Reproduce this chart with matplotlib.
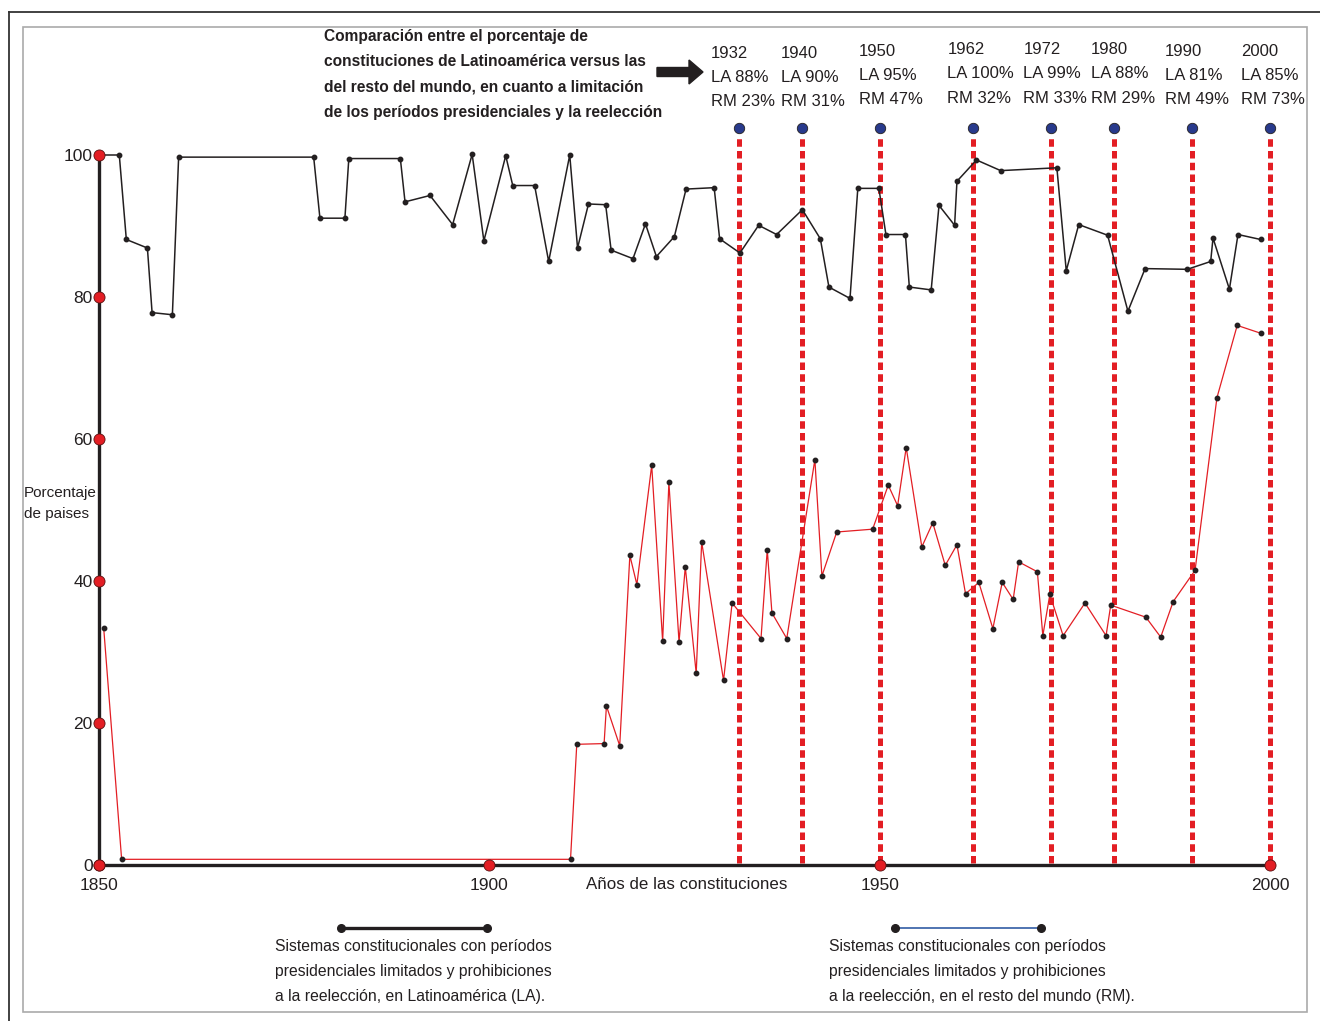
import matplotlib
matplotlib.use("Agg")
import matplotlib.pyplot as plt
import matplotlib.patches as mpatches
from matplotlib.lines import Line2D
from matplotlib.transforms import IdentityTransform

plt.rcParams['font.family'] = ['Liberation Sans', 'DejaVu Sans']

# Latinoamérica (LA): año de la constitución, porcentaje
la_years = [1850, 1852.6, 1853.5, 1856.2, 1856.8, 1859.4, 1860.2, 1877.5, 1878.3, 1881.5,
            1882.0, 1888.6, 1889.2, 1892.4, 1895.3, 1897.8, 1899.3, 1902.1, 1903.0, 1905.8,
            1907.6, 1910.3, 1911.3, 1912.7, 1914.9, 1915.6, 1918.4, 1920.0, 1921.4, 1923.7,
            1925.2, 1928.8, 1929.5, 1932.1, 1934.5, 1936.8, 1940.1, 1942.4, 1943.5, 1946.2,
            1947.2, 1949.9, 1950.8, 1953.3, 1953.8, 1956.6, 1957.6, 1959.6, 1959.9, 1962.4,
            1965.5, 1972.7, 1973.9, 1975.5, 1979.2, 1981.8, 1984.0, 1989.4, 1992.4, 1992.7,
            1994.8, 1995.9, 1998.8]
la_vals = [100, 100, 88.1, 86.9, 77.8, 77.5, 99.7, 99.7, 91.1, 91.1,
           99.5, 99.5, 93.4, 94.3, 90.2, 100.1, 87.9, 99.9, 95.7, 95.7,
           85.0, 100.0, 86.9, 93.1, 93.0, 86.6, 85.4, 90.3, 85.7, 88.5,
           95.2, 95.4, 88.2, 86.2, 90.1, 88.8, 92.3, 88.2, 81.4, 79.8,
           95.3, 95.3, 88.8, 88.8, 81.4, 81.0, 92.9, 90.1, 96.3, 99.3,
           97.8, 98.2, 83.7, 90.2, 88.7, 78.0, 84.0, 83.9, 85.0, 88.3,
           81.1, 88.8, 88.1]

# resto del mundo (RM)
rm_years = [1850.6, 1852.9, 1910.4, 1911.2, 1914.7, 1915.0, 1916.7, 1918.0, 1918.9, 1920.8,
            1922.2, 1923.0, 1924.3, 1925.1, 1926.5, 1927.2, 1930.0, 1931.1, 1934.8, 1935.6,
            1936.2, 1938.1, 1941.7, 1942.6, 1944.5, 1949.1, 1951.1, 1952.3, 1953.4, 1955.4,
            1956.8, 1958.4, 1959.9, 1961.0, 1962.7, 1964.5, 1965.7, 1967.1, 1967.8, 1970.2,
            1970.9, 1971.8, 1973.5, 1976.3, 1979.0, 1979.6, 1984.1, 1986.0, 1987.6, 1990.4,
            1993.2, 1995.8, 1998.8]
rm_vals = [33.4, 0.8, 0.8, 17.0, 17.1, 22.4, 16.8, 43.6, 39.5, 56.3,
           31.5, 53.9, 31.4, 42.0, 27.0, 45.5, 26.0, 36.9, 31.9, 44.4,
           35.5, 31.9, 57.1, 40.7, 46.9, 47.3, 53.5, 50.6, 58.8, 44.8,
           48.2, 42.2, 45.1, 38.2, 39.8, 33.3, 39.8, 37.4, 42.7, 41.3,
           32.3, 38.1, 32.3, 36.9, 32.3, 36.6, 34.9, 32.1, 37.1, 41.5,
           65.8, 76.0, 74.9]

# años marcados con línea punteada
mark_years = [1932, 1940, 1950, 1962, 1972, 1980, 1990, 2000]
mark_la = [88, 90, 95, 100, 99, 88, 81, 85]
mark_rm = [23, 31, 47, 32, 33, 29, 49, 73]

x_ticks = [1850, 1900, 1950, 2000]
y_ticks = [0, 20, 40, 60, 80, 100]

title_lines = ["Comparación entre el porcentaje de",
               "constituciones de Latinoamérica versus las",
               "del resto del mundo, en cuanto a limitación",
               "de los períodos presidenciales y la reelección"]
legend_la = ["Sistemas constitucionales con períodos",
             "presidenciales limitados y prohibiciones",
             "a la reelección, en Latinoamérica (LA)."]
legend_rm = ["Sistemas constitucionales con períodos",
             "presidenciales limitados y prohibiciones",
             "a la reelección, en el resto del mundo (RM)."]

W, H = 1320, 1021
INK = '#231f20'
RED = '#e31e24'


def px(x, y):
    return x / W, 1 - y / H


fig = plt.figure(figsize=(W / 100, H / 100), dpi=100)
ax = fig.add_axes([99 / W, 1 - 865 / H, (1270 - 99) / W, 710 / H])
ax.set_xlim(1850, 2000)
ax.set_ylim(0, 100)
for s in ax.spines.values():
    s.set_visible(False)

# frames
fig.add_artist(Line2D([9 / W, 9 / W], [0, 1 - 12 / H], color='#333333', lw=1.3))
fig.add_artist(Line2D([9 / W, 1], [1 - 12 / H, 1 - 12 / H], color='#333333', lw=1.3))
fig.add_artist(mpatches.Rectangle(px(23, 1012), (1307 - 23) / W, (1012 - 27) / H,
                                  fill=False, edgecolor='#aaaaaa', lw=1.2))

# axis lines
ax.plot([1850, 2000], [0, 0], color=INK, lw=2.4, clip_on=False, zorder=3)
ax.plot([1850, 1850], [0, 100], color=INK, lw=2.4, clip_on=False, zorder=3)

# dotted markers for key years
for yr in mark_years:
    ax.plot([yr, yr], [0.3, 102.6], color=RED, lw=3.6, linestyle=(0, (1.5, 0.85)),
            clip_on=False, zorder=2)
ax.plot(mark_years, [103.8] * len(mark_years), 'o', ms=7.5, mfc='#283a8c', mec=INK,
        mew=0.6, clip_on=False, zorder=6)

# series
ax.plot(la_years, la_vals, color=INK, lw=1.1, marker='o', ms=3.2, mfc=INK, mec=INK,
        clip_on=False, zorder=4)
ax.plot(rm_years, rm_vals, color=RED, lw=0.9, marker='o', ms=3.2, mfc=INK, mec=INK,
        clip_on=False, zorder=4)

# tick circles
ax.plot(x_ticks, [0] * len(x_ticks), 'o', ms=8, mfc=RED, mec='#5a1010', mew=0.6,
        clip_on=False, zorder=7)
ax.plot([1850] * len(y_ticks), y_ticks, 'o', ms=8, mfc=RED, mec='#5a1010', mew=0.6,
        clip_on=False, zorder=7)

ax.set_xticks(x_ticks)
ax.set_yticks(y_ticks)
ax.tick_params(length=0, labelsize=12.5, labelcolor=INK)
ax.tick_params(axis='x', pad=9.5)
ax.tick_params(axis='y', pad=4.5)

fig.text(*px(687, 884), "Años de las constituciones", ha='center', va='center',
         fontsize=12.2, color=INK)
fig.text(*px(24, 493), "Porcentaje", ha='left', va='center', fontsize=11, color=INK)
fig.text(*px(24, 514), "de paises", ha='left', va='center', fontsize=11, color=INK)

# title block
for i, line in enumerate(title_lines):
    fig.text(*px(324, 37 + 25 * i), line, ha='left', va='center', fontsize=11.2,
             fontweight='bold', color=INK)
fig.patches.append(mpatches.FancyArrow(657, H - 72, 32, 0, width=9, head_width=24,
                                       head_length=14, length_includes_head=False,
                                       color=INK, transform=IdentityTransform()))

# labels above key years
x_off = [-28, -21, -21, -26, -28, -23, -27, -29]
y_top = [53, 53, 51, 49, 49, 49, 51, 51]
for yr, la, rm, dx, yt in zip(mark_years, mark_la, mark_rm, x_off, y_top):
    xp = 99 + (yr - 1850) * (1270 - 99) / 150 + dx
    for j, s in enumerate([f"{yr}", f"LA {la}%", f"RM {rm}%"]):
        fig.text(*px(xp, yt + 24.5 * j), s, ha='left', va='center', fontsize=12,
                 color=INK)

# legend
fig.add_artist(Line2D([341 / W, 487 / W], [1 - 928 / H] * 2, color=INK, lw=2.4,
                      marker='o', ms=5.5, mfc=INK, mec=INK))
fig.add_artist(Line2D([895 / W, 1041 / W], [1 - 928 / H] * 2, color='#1f4e9c', lw=1.1,
                      marker='o', ms=5.5, mfc=INK, mec=INK))
for j, (a, b) in enumerate(zip(legend_la, legend_rm)):
    fig.text(*px(275, 946 + 25 * j), a, ha='left', va='center', fontsize=11.3, color=INK)
    fig.text(*px(829, 946 + 25 * j), b, ha='left', va='center', fontsize=11.3, color=INK)

fig.savefig("out.png", dpi=100)
